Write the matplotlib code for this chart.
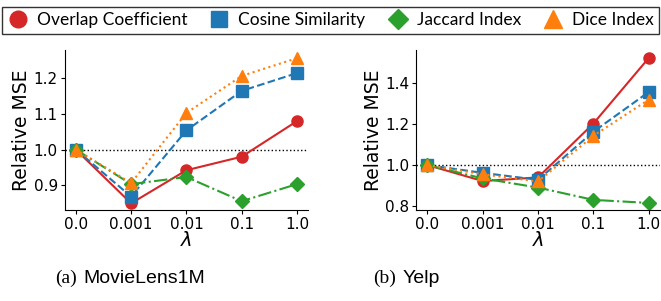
import matplotlib
matplotlib.use("Agg")
import matplotlib.pyplot as plt

lambdas = ["0.0", "0.001", "0.01", "0.1", "1.0"]
names = ["Overlap Coefficient", "Cosine Similarity", "Jaccard Index", "Dice Index"]

# MovieLens1M
ml_overlap = [1.0, 0.849, 0.942, 0.980, 1.080]
ml_cosine = [1.0, 0.868, 1.054, 1.165, 1.215]
ml_jaccard = [1.0, 0.903, 0.923, 0.855, 0.903]
ml_dice = [1.0, 0.906, 1.103, 1.207, 1.257]

# Yelp
yelp_overlap = [1.0, 0.922, 0.940, 1.203, 1.523]
yelp_cosine = [1.0, 0.962, 0.928, 1.163, 1.357]
yelp_jaccard = [1.0, 0.935, 0.890, 0.830, 0.815]
yelp_dice = [1.0, 0.955, 0.920, 1.143, 1.320]

colors = ["#d62728", "#1f77b4", "#2ca02c", "#ff7f0e"]
markers = ["o", "s", "D", "^"]
styles = ["-", "--", "-.", ":"]
msizes = [8, 8, 7, 9]

fig = plt.figure(figsize=(6.61, 3.01), dpi=100)
ax1 = fig.add_axes([0.098, 0.302, 0.368, 0.532])
ax2 = fig.add_axes([0.630, 0.302, 0.368, 0.532])

x = list(range(len(lambdas)))

def draw(ax, series, ylim, yticks):
    handles = []
    for vals, c, m, ls, ms, nm in zip(series, colors, markers, styles, msizes, names):
        h, = ax.plot(x, vals, color=c, marker=m, linestyle=ls, markersize=ms,
                     linewidth=1.5, label=nm)
        handles.append(h)
    ax.axhline(1.0, color="black", linestyle=":", linewidth=1, zorder=0)
    ax.set_xticks(x)
    ax.set_xticklabels(lambdas)
    ax.set_yticks(yticks)
    ax.set_ylim(*ylim)
    ax.set_xlim(-0.2, 4.2)
    ax.spines["top"].set_visible(False)
    ax.spines["right"].set_visible(False)
    ax.tick_params(labelsize=11, length=3, pad=2)
    ax.set_xlabel(r"$\lambda$", fontsize=14, labelpad=-1)
    ax.set_ylabel("Relative MSE", fontsize=13.5, labelpad=2)
    return handles

hs = draw(ax1, [ml_overlap, ml_cosine, ml_jaccard, ml_dice], (0.83, 1.28), [0.9, 1.0, 1.1, 1.2])
draw(ax2, [yelp_overlap, yelp_cosine, yelp_jaccard, yelp_dice], (0.78, 1.563), [0.8, 1.0, 1.2, 1.4])
ax2.set_yticklabels(["0.8", "1.0", "1.2", "1.4"])

leg = fig.legend(handles=hs, loc="upper center", bbox_to_anchor=(0.5, 1.005), ncol=4,
                 frameon=True, fancybox=False, edgecolor="black", markerscale=1.5,
                 handlelength=1.2, handletextpad=0.5, columnspacing=1.25,
                 borderpad=0.3, prop={"family": "Lato", "size": 12.5})
leg.get_frame().set_linewidth(1.0)
for line in leg.get_lines():
    line.set_linestyle("")

fig.text(0.083, 0.06, "(a)", family="Liberation Serif", fontsize=14)
fig.text(0.126, 0.06, "MovieLens1M", family="Liberation Sans", fontsize=14)
fig.text(0.565, 0.06, "(b)", family="Liberation Serif", fontsize=14)
fig.text(0.609, 0.06, "Yelp", family="Liberation Sans", fontsize=14)

fig.savefig("out.png", dpi=100)
